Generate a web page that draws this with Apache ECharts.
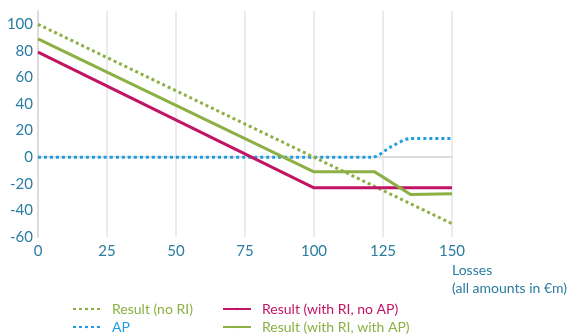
<!DOCTYPE html>
<html>
<head>
<meta charset="utf-8">
<script src="https://cdn.jsdelivr.net/npm/echarts@6/dist/echarts.min.js"></script>
<style>
html,body{margin:0;padding:0;background:#fff;}
#chart{width:579px;height:336px;}
</style>
</head>
<body>
<div id="chart"></div>
<script>
// Data (Losses in €m vs. result)
const xTicks = [0, 25, 50, 75, 100, 125, 150];
const yTicks = [-60, -40, -20, 0, 20, 40, 60, 80, 100];
const resultNoRI = [[0, 100], [150, -50]];
const resultRINoAP = [[0, 79], [100, -23], [150, -23]];
const resultRIWithAP = [[0, 89], [100, -11], [122, -11], [135, -28], [150, -27.5]];
const ap = [[0, 0], [121, 0], [128, 8], [135, 14], [150, 14]];
const seriesNames = ['Result (no RI)', 'AP', 'Result (with RI, no AP)', 'Result (with RI, with AP)'];

const TEXT = '#2a7ca0';
const GREEN = '#8cb043';
const MAGENTA = '#c21464';
const BLUE = '#1f9de0';
const FONT = 'Lato';

const legendPos = [[72, 302], [72, 320], [222, 302], [222, 320]];
const legendColors = [GREEN, BLUE, MAGENTA, GREEN];

const chart = echarts.init(document.getElementById('chart'));
chart.setOption({
  animation: false,
  textStyle: { fontFamily: FONT },
  grid: { left: 38, right: 127, top: 11, bottom: 99, containLabel: false },
  xAxis: {
    type: 'value', min: 0, max: 150, interval: 25,
    axisLine: { show: true, lineStyle: { color: '#dcdcdc', width: 2 } },
    axisTick: { show: false },
    splitLine: { show: true, lineStyle: { color: '#e4e4e4', width: 1.5 } },
    axisLabel: { color: TEXT, fontSize: 15, fontFamily: FONT, margin: 7,
      formatter: v => xTicks.includes(v) ? String(v) : '' }
  },
  yAxis: {
    type: 'value', min: -60, max: 110, interval: 20,
    axisLine: { show: true, lineStyle: { color: '#dcdcdc', width: 2 } },
    axisTick: { show: false },
    splitLine: { show: false },
    axisLabel: { color: TEXT, fontSize: 15, fontFamily: FONT, margin: 5,
      showMaxLabel: false,
      formatter: v => yTicks.includes(v) ? String(v) : '' }
  },
  legend: seriesNames.map((n, i) => ({
    left: legendPos[i][0], top: legendPos[i][1], padding: 0,
    itemWidth: 28, itemHeight: 3, itemGap: 0,
    textStyle: { fontSize: 14, fontFamily: FONT, color: legendColors[i], padding: [0, 0, 0, 6] },
    data: [n]
  })),
  graphic: [
    { type: 'text', left: 452, top: 263, style: { text: 'Losses', fill: TEXT, font: '14px Lato' } },
    { type: 'text', left: 452, top: 281, style: { text: '(all amounts in €m)', fill: TEXT, font: '14px Lato' } }
  ],
  series: [
    { name: seriesNames[0], type: 'line', data: resultNoRI, showSymbol: false, symbol: 'none',
      lineStyle: { color: GREEN, width: 3, type: [3, 3] }, itemStyle: { color: GREEN }, z: 3 },
    { name: seriesNames[1], type: 'line', data: ap, showSymbol: false, symbol: 'none', smooth: 0.3,
      lineStyle: { color: BLUE, width: 3, type: [3, 3] }, itemStyle: { color: BLUE }, z: 2 },
    { name: seriesNames[2], type: 'line', data: resultRINoAP, showSymbol: false, symbol: 'none',
      lineStyle: { color: MAGENTA, width: 3 }, itemStyle: { color: MAGENTA }, z: 4 },
    { name: seriesNames[3], type: 'line', data: resultRIWithAP, showSymbol: false, symbol: 'none',
      lineStyle: { color: GREEN, width: 3 }, itemStyle: { color: GREEN }, z: 5 }
  ]
});
</script>
</body>
</html>
